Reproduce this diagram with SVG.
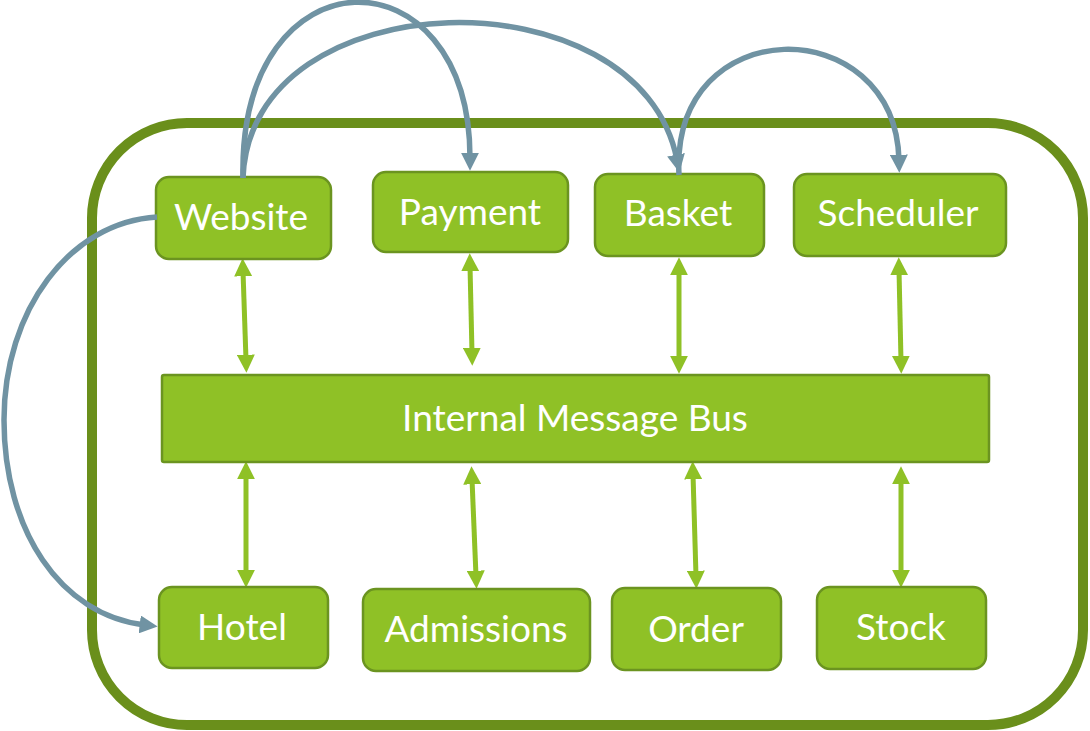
<svg xmlns="http://www.w3.org/2000/svg" width="1090" height="731" viewBox="0 0 1090 731">
<style>
.node{fill:#8fc126;stroke:#6b9420;stroke-width:2.5}
.lbl{font-family:Lato,"Open Sans","DejaVu Sans",sans-serif;font-size:37px;fill:#ffffff;text-anchor:middle}
.bus{fill:none;stroke:#8fc126;stroke-width:5;marker-start:url(#ga);marker-end:url(#ga)}
.flow{fill:none;stroke:#7093a3;stroke-width:5.5;marker-end:url(#ba)}
</style>
<defs>
<marker id="ga" markerUnits="userSpaceOnUse" markerWidth="18" markerHeight="18" viewBox="0 0 17 17" refX="5" refY="8.5" orient="auto-start-reverse">
<path d="M0,0 L17,8.5 L0,17 z" fill="#8fc126"/>
</marker>
<marker id="ba" markerUnits="userSpaceOnUse" markerWidth="18" markerHeight="18" viewBox="0 0 17 17" refX="5" refY="8.5" orient="auto">
<path d="M0,0 L17,8.5 L0,17 z" fill="#7093a3"/>
</marker>
</defs>
<rect x="0" y="0" width="1090" height="731" fill="#ffffff"/>
<g id="container">
<rect x="92" y="123" width="991" height="602" rx="95" ry="95" fill="#ffffff" stroke="#6a8f1b" stroke-width="10"/>
</g>
<g id="bus-connectors">
<path class="bus" d="M243,271 L246,360"/>
<path class="bus" d="M470,266 L472,353"/>
<path class="bus" d="M679,270 L679,361"/>
<path class="bus" d="M899,270 L901,361"/>
<path class="bus" d="M246,474 L246,575"/>
<path class="bus" d="M472,479 L476,576"/>
<path class="bus" d="M693,474 L696,576"/>
<path class="bus" d="M901,479 L901,575"/>
</g>
<g id="website">
<rect class="node" x="156" y="177" width="175" height="82" rx="13"/>
<text class="lbl" x="241" y="230">Website</text>
</g>
<g id="payment">
<rect class="node" x="373" y="172" width="195" height="80" rx="13"/>
<text class="lbl" x="470" y="225">Payment</text>
</g>
<g id="basket">
<rect class="node" x="595" y="174" width="169" height="82" rx="13"/>
<text class="lbl" x="678" y="226">Basket</text>
</g>
<g id="scheduler">
<rect class="node" x="794" y="174" width="212" height="82" rx="13"/>
<text class="lbl" x="898" y="226">Scheduler</text>
</g>
<g id="message-bus">
<rect class="node" x="162" y="375" width="827" height="87" rx="2"/>
<text class="lbl" x="575" y="431">Internal Message Bus</text>
</g>
<g id="hotel">
<rect class="node" x="159" y="587" width="169" height="81" rx="13"/>
<text class="lbl" x="242" y="640">Hotel</text>
</g>
<g id="admissions">
<rect class="node" x="363" y="589" width="227" height="82" rx="13"/>
<text class="lbl" x="476" y="642">Admissions</text>
</g>
<g id="order">
<rect class="node" x="612" y="588" width="169" height="82" rx="13"/>
<text class="lbl" x="696" y="642">Order</text>
</g>
<g id="stock">
<rect class="node" x="817" y="587" width="169" height="82" rx="13"/>
<text class="lbl" x="901" y="640">Stock</text>
</g>
<g id="connectors">
<path class="flow" d="M243,178 C238,-53 470,-53 470,158"/>
<path class="flow" d="M243,178 C250,-22 640,-30 677,160"/>
<path class="flow" d="M679,175 C670,10 895,10 899,160"/>
<path class="flow" d="M157,217 C70,222 4,310 4,420 C4,530 60,615 145,625"/>
</g>
</svg>
